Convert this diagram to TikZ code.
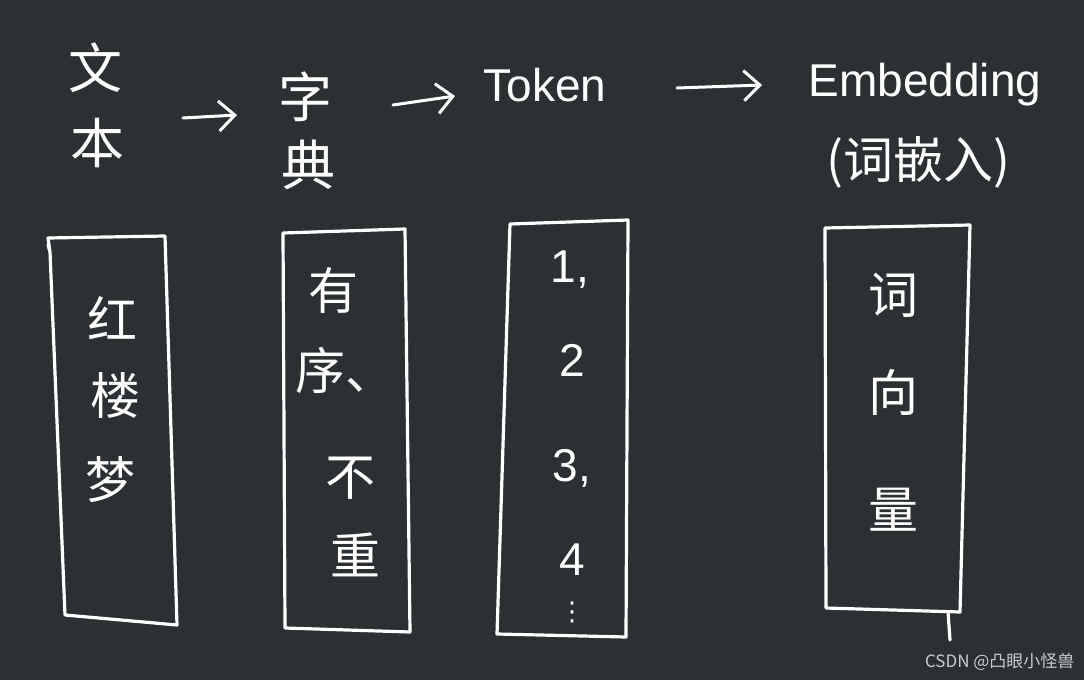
\documentclass[tikz,border=0pt]{standalone}
\usepackage{fontspec}
\newfontfamily\cjk{Noto Sans CJK SC}
\newfontfamily\dejavu{DejaVu Sans}
\setmainfont{Liberation Sans}
\usetikzlibrary{arrows.meta}
\definecolor{bg}{HTML}{2B3033}
\tikzset{
  hand/.style={draw=white,line width=3.2pt,line cap=round,line join=round},
  arr/.style={white,line width=3pt,line cap=round,-{Straight Barb[length=16pt,width=30pt,line width=3pt]}},
  big/.style={text=white,font=\cjk\fontsize{54}{54}\selectfont,inner sep=0pt},
  mid/.style={text=white,font=\cjk\fontsize{50}{50}\selectfont,inner sep=0pt},
  lat/.style={text=white,font=\fontsize{46}{46}\selectfont,inner sep=0pt},
}
\begin{document}
\begin{tikzpicture}[x=1pt,y=-1pt]
\fill[bg] (0,0) rectangle (1084,680);
\useasboundingbox (0,0) rectangle (1084,680);
% headers
\node[big] (w1) at (95,68) {文};
\node[big] (w2) at (97,143) {本};
\node[big] (d1) at (305,97) {字};
\node[big] (d2) at (308,165) {典};
\node[lat] (tok) at (545,85) {Token};
\node[lat] (emb) at (925,85) {Embedding};
\node[mid] (emc) at (918,162) {(词嵌入)};
\coordinate (a1s) at (183,118); \coordinate (a1e) at (237,115);
\coordinate (a2s) at (393,105); \coordinate (a2e) at (455,96);
\coordinate (a3s) at (677,88); \coordinate (a3e) at (762,85);
\draw[arr] (a1s) -- (a1e);
\draw[arr] (a2s) -- (a2e);
\draw[arr] (a3s) -- (a3e);
% boxes
\draw[hand] (50,252) -- (48,238) -- (165,236) -- (177,625) -- (65,615) -- (50,252) -- (48,245);
\draw[hand] (283,233) -- (405,229) -- (410,632) -- (285,628) -- cycle;
\draw[hand] (510,224) -- (628,220) -- (626,637) -- (497,634) -- cycle;
\draw[hand] (825,228) -- (970,225) -- (960,612) -- (826,608) -- cycle;
\draw[hand] (948,612) -- (950,640);
% box texts
\node[mid] (r1) at (112,318) {红};
\node[mid] (r2) at (115,395) {楼};
\node[mid] (r3) at (110,480) {梦};
\node[mid] (s1) at (333,290) {有};
\node[mid] (s2) at (345,370) {序、};
\node[mid] (s3) at (350,478) {不};
\node[mid] (s4) at (355,555) {重};
\node[lat] (n1) at (570,270) {1,};
\node[lat] (n2) at (572,360) {2};
\node[lat] (n3) at (572,468) {3,};
\node[lat] (n4) at (572,560) {4};
\node[text=white,font=\dejavu\fontsize{26}{26}\selectfont,inner sep=0pt] (n5) at (572,612) {⋮};
\node[mid] (v1) at (893,295) {词};
\node[mid] (v2) at (893,392) {向};
\node[mid] (v3) at (893,510) {量};
\node[text=white!75!bg,font=\cjk\fontsize{17}{17}\selectfont,anchor=east] (wm) at (1078,662) {CSDN @凸眼小怪兽};
\end{tikzpicture}
\end{document}
